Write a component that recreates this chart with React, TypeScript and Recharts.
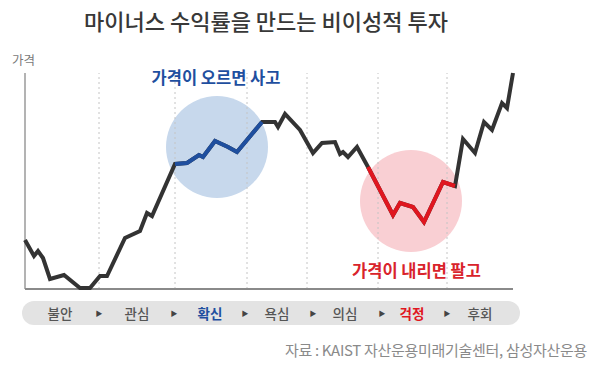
import React from "react";
import { LineChart, Line, XAxis, YAxis, ReferenceLine, ReferenceDot } from "recharts";

// time (arbitrary units) and price (arbitrary units)
const times = [0, 9, 13, 18, 25, 39, 55, 65, 75, 82, 100, 115, 122, 127, 150, 162, 174, 178, 190, 203, 212, 237, 250, 253, 260, 275, 288, 297, 310, 315, 318, 323, 332, 343, 368, 375, 388, 399, 418, 430, 438, 450, 459, 467, 477, 482, 488];
const prices = [49, 33, 38, 31, 10, 14, 1, 1, 13, 13, 51, 58, 76, 73, 125, 126, 134, 132, 148, 142, 137, 167, 167, 162, 175, 159, 136, 146, 147, 135, 137, 132, 142, 122, 74, 86, 82, 67, 107, 103, 150, 136, 167, 159, 186, 181, 216];

const buyRange = [150, 237];
const sellRange = [343, 430];
const stageBoundaries = [74, 150, 222, 282, 353, 422];
const buyCircle = { t: 192, p: 142 };
const sellCircle = { t: 386, p: 88 };

const stages = ["불안", "관심", "확신", "욕심", "의심", "걱정", "후회"];
const stageColors = ["#555", "#555", "#1f4f9f", "#555", "#555", "#e0161f", "#555"];

const title = "마이너스 수익률을 만드는 비이성적 투자";
const yLabel = "가격";
const buyText = "가격이 오르면 사고";
const sellText = "가격이 내리면 팔고";
const source = "자료 : KAIST 자산운용미래기술센터, 삼성자산운용";

const data = times.map((t, i) => ({
  t,
  price: prices[i],
  buy: t >= buyRange[0] && t <= buyRange[1] ? prices[i] : null,
  sell: t >= sellRange[0] && t <= sellRange[1] ? prices[i] : null,
}));

const FONT = "'Noto Sans CJK KR', 'Noto Sans', sans-serif";

const stageX = [60, 137, 210, 277, 345, 412, 480];
const arrowX = [99, 174, 245, 313, 382, 447];

export default function App() {
  return (
    <div style={{ position: "absolute", left: 0, top: 0, width: 593, height: 369, background: "#fff", fontFamily: FONT, overflow: "hidden" }}>
      <div style={{ position: "absolute", left: 0, width: 532, top: 5, textAlign: "center", fontSize: 22, fontWeight: 500, color: "#383838", lineHeight: "30px" }}>{title}</div>
      <div style={{ position: "absolute", left: 12, top: 51, fontSize: 12.5, color: "#7a7a7a", lineHeight: "18px" }}>{yLabel}</div>

      <div style={{ position: "absolute", left: 0, top: 0 }}>
        <LineChart width={593} height={369} data={data} margin={{ top: 73, left: 25, right: 80, bottom: 80 }}>
          <XAxis dataKey="t" type="number" domain={[0, 488]} hide />
          <YAxis type="number" domain={[0, 216]} hide />
          <ReferenceDot x={buyCircle.t} y={buyCircle.p} r={51} fill="#c7d8ec" stroke="none" zIndex={-20} />
          <ReferenceDot x={sellCircle.t} y={sellCircle.p} r={51} fill="#f9cfd3" stroke="none" zIndex={-20} />
          {stageBoundaries.map((x) => (
            <ReferenceLine key={x} x={x} stroke="#c4c4c4" strokeDasharray="2 3" strokeWidth={1} zIndex={-10} />
          ))}
          <ReferenceLine x={0} stroke="#9a9a9a" strokeWidth={1.5} zIndex={-10} />
          <ReferenceLine y={0} stroke="#8a8a8a" strokeWidth={2} zIndex={-10} />
          <Line dataKey="price" stroke="#333333" strokeWidth={4} dot={false} isAnimationActive={false} />
          <Line dataKey="buy" stroke="#1f4f9f" strokeWidth={4} dot={false} isAnimationActive={false} />
          <Line dataKey="sell" stroke="#e0161f" strokeWidth={4} dot={false} isAnimationActive={false} />
        </LineChart>
      </div>

      <div style={{ position: "absolute", left: 145, width: 142, top: 66, textAlign: "center", fontSize: 16.5, fontWeight: 700, color: "#1f4f9f", lineHeight: "22px", whiteSpace: "nowrap" }}>{buyText}</div>
      <div style={{ position: "absolute", left: 345, width: 143, top: 259, textAlign: "center", fontSize: 16.5, fontWeight: 700, color: "#d9232b", lineHeight: "22px", whiteSpace: "nowrap" }}>{sellText}</div>

      <div style={{ position: "absolute", left: 22, top: 301, width: 498, height: 24, borderRadius: 12, background: "#e3e3e3" }} />
      {stages.map((s, i) => (
        <div key={s} style={{ position: "absolute", left: stageX[i] - 30, width: 60, top: 303, textAlign: "center", fontSize: 13.5, lineHeight: "20px", fontWeight: i === 2 || i === 5 ? 700 : 500, color: stageColors[i] }}>{s}</div>
      ))}
      {arrowX.map((x) => (
        <div key={x} style={{ position: "absolute", left: x - 10, width: 20, top: 303, textAlign: "center", fontSize: 7, lineHeight: "20px", color: "#444" }}>▶</div>
      ))}

      <div style={{ position: "absolute", right: 6, top: 340, fontSize: 15, color: "#8a8a8a", lineHeight: "20px", whiteSpace: "nowrap", letterSpacing: -0.3 }}>{source}</div>
    </div>
  );
}
